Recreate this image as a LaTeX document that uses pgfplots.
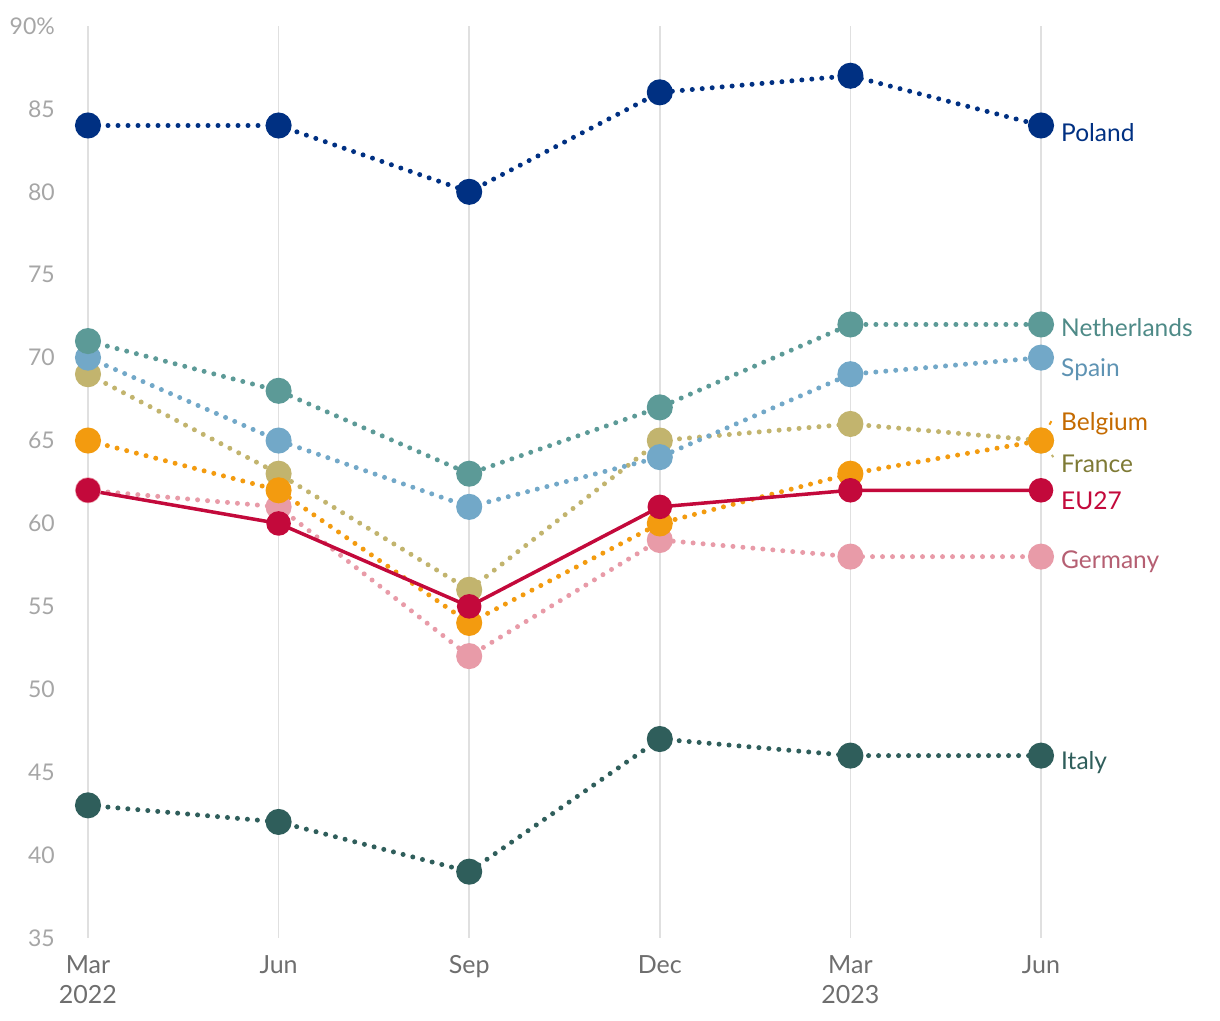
\documentclass[border=0pt]{standalone}
\usepackage{pgfplots}
\pgfplotsset{compat=1.18}
\usepackage{fontspec}
\setmainfont{Lato}
\definecolor{cPol}{HTML}{003082}
\definecolor{cNed}{HTML}{5C9A97}
\definecolor{cNedL}{HTML}{4E8A87}
\definecolor{cSpa}{HTML}{72A8C8}
\definecolor{cSpaL}{HTML}{5E93B3}
\definecolor{cFra}{HTML}{C2B46E}
\definecolor{cFraL}{HTML}{7E7A35}
\definecolor{cBel}{HTML}{F39B0F}
\definecolor{cBelL}{HTML}{C46A00}
\definecolor{cEU}{HTML}{C3093B}
\definecolor{cGer}{HTML}{E89BA8}
\definecolor{cGerL}{HTML}{B55F72}
\definecolor{cIta}{HTML}{2F5E5B}
\definecolor{cGrid}{HTML}{E0E0E0}
\definecolor{cYt}{HTML}{A6A6A6}
\definecolor{cXt}{HTML}{6E6E6E}
\begin{document}
\begin{tikzpicture}[x=1pt,y=1pt]
\useasboundingbox (0,0) rectangle (1220,1020);
\begin{axis}[
  at={(88pt,82pt)}, anchor=south west,
  scale only axis, width=953pt, height=912pt,
  xmin=0, xmax=5, ymin=35, ymax=90,
  clip=false,
  axis line style={draw=none},
  major tick length=0pt,
  xtick={0,1,2,3,4,5},
  xticklabels={\strut Mar\\2022, \strut Jun, \strut Sep, \strut Dec, \strut Mar\\2023, \strut Jun},
  ytick={35,40,45,50,55,60,65,70,75,80,85,90},
  yticklabels={35,40,45,50,55,60,65,70,75,80,85,90\%},
  xticklabel style={anchor=north, yshift=-14pt, inner sep=0pt, align=center, text=cXt, font=\fontsize{25}{30}\selectfont},
  yticklabel style={anchor=east, xshift=-33pt, inner sep=0pt, text=cYt, font=\fontsize{23}{27}\selectfont},
  xmajorgrids, ymajorgrids=false,
  grid style={draw=cGrid, line width=1.6pt},
  ser/.style={#1, line width=5pt, dash pattern=on 0pt off 10pt, line cap=round,
     mark=*, mark size=10.5pt, mark options={solid, draw=none, fill=#1}},
]
\addplot[ser=cIta] coordinates {(0,43)(1,42)(2,39)(3,47)(4,46)(5,46)};
\addplot[ser=cGer] coordinates {(0,62)(1,61)(2,52)(3,59)(4,58)(5,58)};
\addplot[ser=cFra] coordinates {(0,69)(1,63)(2,56)(3,65)(4,66)(5,65)};
\addplot[ser=cBel] coordinates {(0,65)(1,62)(2,54)(3,60)(4,63)(5,65)};
\addplot[ser=cSpa] coordinates {(0,70)(1,65)(2,61)(3,64)(4,69)(5,70)};
\addplot[ser=cNed] coordinates {(0,71)(1,68)(2,63)(3,67)(4,72)(5,72)};
\addplot[ser=cPol] coordinates {(0,84)(1,84)(2,80)(3,86)(4,87)(5,84)};
\addplot[ser=cEU, line width=3.5pt, solid] coordinates {(0,62)(1,60)(2,55)(3,61)(4,62)(5,62)};
% leader lines
\draw[cBel, line width=2pt, dash pattern=on 4pt off 5pt] (axis cs:5,65) -- (axis cs:5.065,66.4);
\draw[cFra, line width=2pt, dash pattern=on 4pt off 5pt] (axis cs:5,65) -- (axis cs:5.065,64.0);
\begin{scope}[every node/.style={anchor=west, inner sep=0pt, font=\fontsize{24.5}{28}\selectfont}]
\node[text=cPol] at (axis cs:5.105,83.6) {Poland};
\node[text=cNedL] at (axis cs:5.105,71.8) {Netherlands};
\node[text=cSpaL] at (axis cs:5.105,69.3) {Spain};
\node[text=cBelL] at (axis cs:5.105,66.0) {Belgium};
\node[text=cFraL] at (axis cs:5.105,63.6) {France};
\node[text=cEU] at (axis cs:5.105,61.35) {EU27};
\node[text=cGerL] at (axis cs:5.105,57.7) {Germany};
\node[text=cIta] at (axis cs:5.105,45.55) {Italy};
\end{scope}
\end{axis}
\end{tikzpicture}
\end{document}
